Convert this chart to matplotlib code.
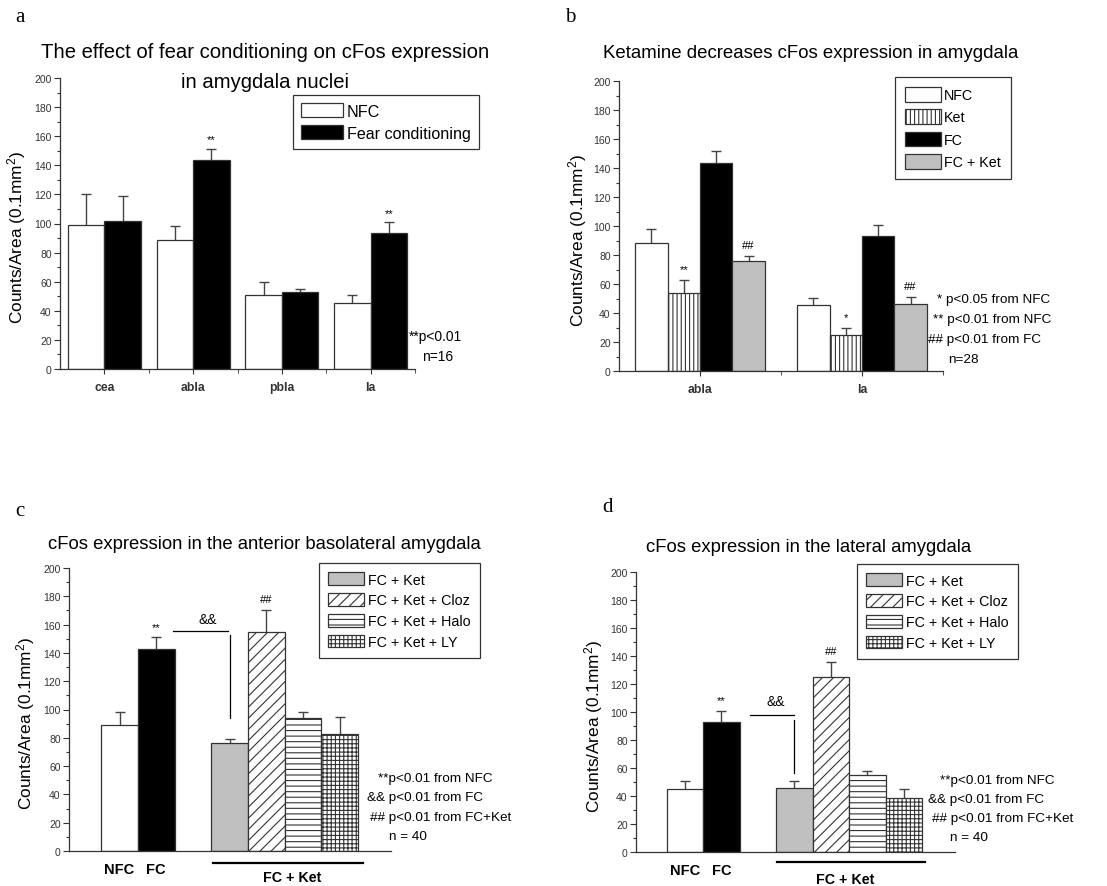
import numpy as np
import matplotlib
matplotlib.use("Agg")
import matplotlib.pyplot as plt
from matplotlib.ticker import MultipleLocator, FixedLocator

plt.rcParams["font.family"] = ["Liberation Sans", "DejaVu Sans"]
plt.rcParams["mathtext.fontset"] = "custom"
plt.rcParams["mathtext.rm"] = "Liberation Sans"
plt.rcParams["mathtext.it"] = "Liberation Sans:italic"
plt.rcParams["hatch.linewidth"] = 0.8

# --- data ---
a_regions = ["cea", "abla", "pbla", "la"]
a_nfc = [99, 88.7, 50.6, 45.1]
a_nfc_err = [21, 9.6, 9, 5.8]
a_fc = [102, 143.4, 52.7, 93.2]
a_fc_err = [17, 8, 2.5, 7.6]

b_regions = ["abla", "la"]
b_nfc = [88.5, 45.5]
b_nfc_err = [9.7, 5.1]
b_ket = [53.6, 25.1]
b_ket_err = [9, 4.3]
b_fc = [143.2, 93.3]
b_fc_err = [8.3, 7.4]
b_fcket = [75.9, 46.2]
b_fcket_err = [3.4, 5.1]

cd_groups = ["NFC", "FC", "FC + Ket", "FC + Ket + Cloz", "FC + Ket + Halo", "FC + Ket + LY"]
c_vals = [88.8, 143, 76.1, 154.5, 93.8, 82.7]
c_err = [9.4, 8, 3.1, 15.8, 4.2, 12]
d_vals = [45.2, 93.1, 45.7, 125, 55, 38.3]
d_err = [5.5, 7.6, 5, 11, 2.9, 6.4]

W, H = 1107, 887
fig = plt.figure(figsize=(W / 100, H / 100), dpi=100)

EDGE = "#333333"
GREY = "#c0c0c0"


def px_axes(left, top, right, bottom):
    return fig.add_axes([left / W, 1 - bottom / H, (right - left) / W, (bottom - top) / H])


def ftext(x, y, s, **kw):
    kw.setdefault("va", "center")
    fig.text(x / W, 1 - y / H, s, **kw)


def style_axes(ax, label_x):
    for s in ["top", "right"]:
        ax.spines[s].set_visible(False)
    for s in ["left", "bottom"]:
        ax.spines[s].set_color(EDGE)
        ax.spines[s].set_linewidth(0.9)
    ax.set_ylim(0, 200)
    ax.yaxis.set_major_locator(MultipleLocator(20))
    ax.yaxis.set_minor_locator(MultipleLocator(10))
    ax.tick_params(axis="y", which="major", direction="out", length=4, width=0.8,
                   labelsize=7.5, pad=2, colors=EDGE)
    ax.tick_params(axis="y", which="minor", direction="out", length=2.5, width=0.8, colors=EDGE)
    ax.set_ylabel("Counts/Area (0.1mm$^2$)", fontsize=12.4)
    pos = ax.get_position()
    # label sits a little below the middle of the axis in the original
    ax.yaxis.set_label_coords(label_x / W, pos.y0 + pos.height / 2 - 13 / H,
                              transform=fig.transFigure)


def bars(ax, x, vals, errs, width, color, hatch=None, label=None):
    ax.errorbar(x, vals, yerr=errs, fmt="none", ecolor="#444444", elinewidth=1,
                capsize=3.6, capthick=1, zorder=1)
    return ax.bar(x, vals, width, color=color, edgecolor=EDGE, linewidth=0.9,
                  hatch=hatch, label=label, zorder=2)


def legend(ax, left, top, fontsize, **kw):
    lg = ax.legend(loc="upper left", bbox_to_anchor=(left / W, 1 - top / H),
                   bbox_transform=fig.transFigure, fontsize=fontsize, frameon=True,
                   fancybox=False, framealpha=1, edgecolor=EDGE, borderaxespad=0,
                   handletextpad=0.25, **kw)
    lg.get_frame().set_linewidth(0.9)
    return lg


# ---------------- panel a ----------------
ax = px_axes(60, 79, 415, 370)
xa = np.arange(len(a_regions))
wa = 0.41
bars(ax, xa - wa / 2, a_nfc, a_nfc_err, wa, "white", label="NFC")
bars(ax, xa + wa / 2, a_fc, a_fc_err, wa, "black", label="Fear conditioning")
ax.set_xlim(-0.5, len(a_regions) - 0.5)
style_axes(ax, 28)
ax.set_xticks(xa)
ax.set_xticklabels(a_regions, fontweight="bold", fontsize=8.8)
ax.xaxis.set_minor_locator(FixedLocator(xa + 0.5))
ax.tick_params(axis="x", which="major", direction="out", length=3.5, colors=EDGE, pad=5)
ax.tick_params(axis="x", which="minor", direction="out", length=3, colors=EDGE)
for i in [1, 3]:
    ax.text(xa[i] + wa / 2, a_fc[i] + a_fc_err[i] + 3, "**", ha="center", va="bottom", fontsize=8)
legend(ax, 293, 96, 11.6, handlelength=2.6, handleheight=0.95, labelspacing=0.42, borderpad=0.5)
ftext(265, 53, "The effect of fear conditioning on cFos expression", ha="center", fontsize=14.6)
ftext(265, 82, "in amygdala nuclei", ha="center", fontsize=14.6)
ftext(409, 337, "**p<0.01", fontsize=10)
ftext(422, 357, "n=16", fontsize=10)
ftext(15, 17, "a", fontsize=15, family="Liberation Serif")

# ---------------- panel b ----------------
ax = px_axes(619, 82, 943, 372)
xb = np.arange(len(b_regions))
wb = 0.2
bars(ax, xb - 1.5 * wb, b_nfc, b_nfc_err, wb, "white", label="NFC")
bars(ax, xb - 0.5 * wb, b_ket, b_ket_err, wb, "white", hatch="||||", label="Ket")
bars(ax, xb + 0.5 * wb, b_fc, b_fc_err, wb, "black", label="FC")
bars(ax, xb + 1.5 * wb, b_fcket, b_fcket_err, wb, GREY, label="FC + Ket")
ax.set_xlim(-0.5, len(b_regions) - 0.5)
style_axes(ax, 589)
ax.set_xticks(xb)
ax.set_xticklabels(b_regions, fontweight="bold", fontsize=8.8)
ax.xaxis.set_minor_locator(FixedLocator(xb + 0.5))
ax.tick_params(axis="x", which="major", direction="out", length=3.5, colors=EDGE, pad=5)
ax.tick_params(axis="x", which="minor", direction="out", length=3, colors=EDGE)
ax.text(xb[0] - 0.5 * wb, b_ket[0] + b_ket_err[0] + 4, "**", ha="center", va="bottom", fontsize=8)
ax.text(xb[1] - 0.5 * wb, b_ket[1] + b_ket_err[1] + 4, "*", ha="center", va="bottom", fontsize=8)
for i in range(2):
    ax.text(xb[i] + 1.5 * wb, b_fcket[i] + b_fcket_err[i] + 4, "##", ha="center", va="bottom", fontsize=8)
legend(ax, 895, 78, 10.3, handlelength=2.5, handleheight=1.2, labelspacing=0.5, borderpad=0.7)
ftext(811, 53, "Ketamine decreases cFos expression in amygdala", ha="center", fontsize=13.4)
ftext(937, 300, "* p<0.05 from NFC", fontsize=9.7)
ftext(933, 320, "** p<0.01 from NFC", fontsize=9.7)
ftext(928, 340, "## p<0.01 from FC", fontsize=9.7)
ftext(948, 360, "n=28", fontsize=9.7)
ftext(565, 17, "b", fontsize=15, family="Liberation Serif")

# ---------------- panels c and d ----------------
cd_pos = np.array([0, 1, 3, 4, 5, 6])
cd_colors = ["white", "black", GREY, "white", "white", "white"]
cd_hatches = [None, None, None, "///", "---", "++++"]


def panel_cd(box, vals, errs, label_x, xlim, bracket, amp_xy, group_line, group_text,
             title, title_xy, notes, letter_xy, letter, legend_xy):
    ax = px_axes(*box)
    handles = []
    for i in range(len(cd_groups)):
        b = bars(ax, cd_pos[i], vals[i], errs[i], 1.0, cd_colors[i], hatch=cd_hatches[i],
                 label=cd_groups[i])
        handles.append(b)
    ax.set_xlim(*xlim)
    style_axes(ax, label_x)
    ax.set_xticks(cd_pos[:2])
    ax.set_xticklabels(cd_groups[:2], fontweight="bold", fontsize=10.5)
    ax.tick_params(axis="x", length=0, pad=8)
    ax.text(cd_pos[1], vals[1] + errs[1] + 4, "**", ha="center", va="bottom", fontsize=8)
    ax.text(cd_pos[3], vals[3] + errs[3] + 4, "##", ha="center", va="bottom", fontsize=8)
    # && bracket
    (hx0, hx1, hy), (vy0, vy1) = bracket
    ax.plot([hx0, hx1], [hy, hy], color="black", lw=0.9)
    ax.plot([cd_pos[2], cd_pos[2]], [vy0, vy1], color="black", lw=0.9)
    ax.text(amp_xy[0], amp_xy[1], "&&", ha="center", va="center", fontsize=10)
    # FC + Ket group line
    tr = ax.get_xaxis_transform()
    ax.plot(group_line[:2], [group_line[2]] * 2, color="black", lw=1.6, transform=tr, clip_on=False)
    ax.text(group_text[0], group_text[1], "FC + Ket", ha="center", va="center", fontweight="bold",
            fontsize=10.3, transform=tr)
    legend(ax, legend_xy[0], legend_xy[1], 10.3, handles=handles[2:], handlelength=2.5,
           handleheight=1.0, labelspacing=0.45, borderpad=0.65)
    ftext(title_xy[0], title_xy[1], title, ha="center", fontsize=13.3)
    for (x, y, s) in notes:
        ftext(x, y, s, fontsize=9.7)
    ftext(letter_xy[0], letter_xy[1], letter, fontsize=15, family="Liberation Serif")


panel_cd((69, 569, 391, 852), c_vals, c_err, 37, (-1.38, 7.4),
         ((1.46, 2.96, 155.5), (152.5, 94)), (2.41, 164), (2.55, 6.63, -0.042), (4.7, -0.092),
         "cFos expression in the anterior basolateral amygdala", (264, 545),
         [(378, 779, "**p<0.01 from NFC"), (367, 798, "&& p<0.01 from FC"),
          (370, 818, "## p<0.01 from FC+Ket"), (389, 837, "n = 40")],
         (15, 511), "c", (319, 564))

panel_cd((636, 573, 955, 853), d_vals, d_err, 605, (-1.34, 7.4),
         ((1.78, 3.0, 97.6), (94, 56.7)), (2.49, 108), (2.52, 6.58, -0.036), (4.38, -0.096),
         "cFos expression in the lateral amygdala", (809, 547),
         [(940, 781, "**p<0.01 from NFC"), (928, 800, "&& p<0.01 from FC"),
          (932, 819, "## p<0.01 from FC+Ket"), (950, 838, "n = 40")],
         (602, 508), "d", (857, 565))

fig.savefig("out.png", dpi=100)
